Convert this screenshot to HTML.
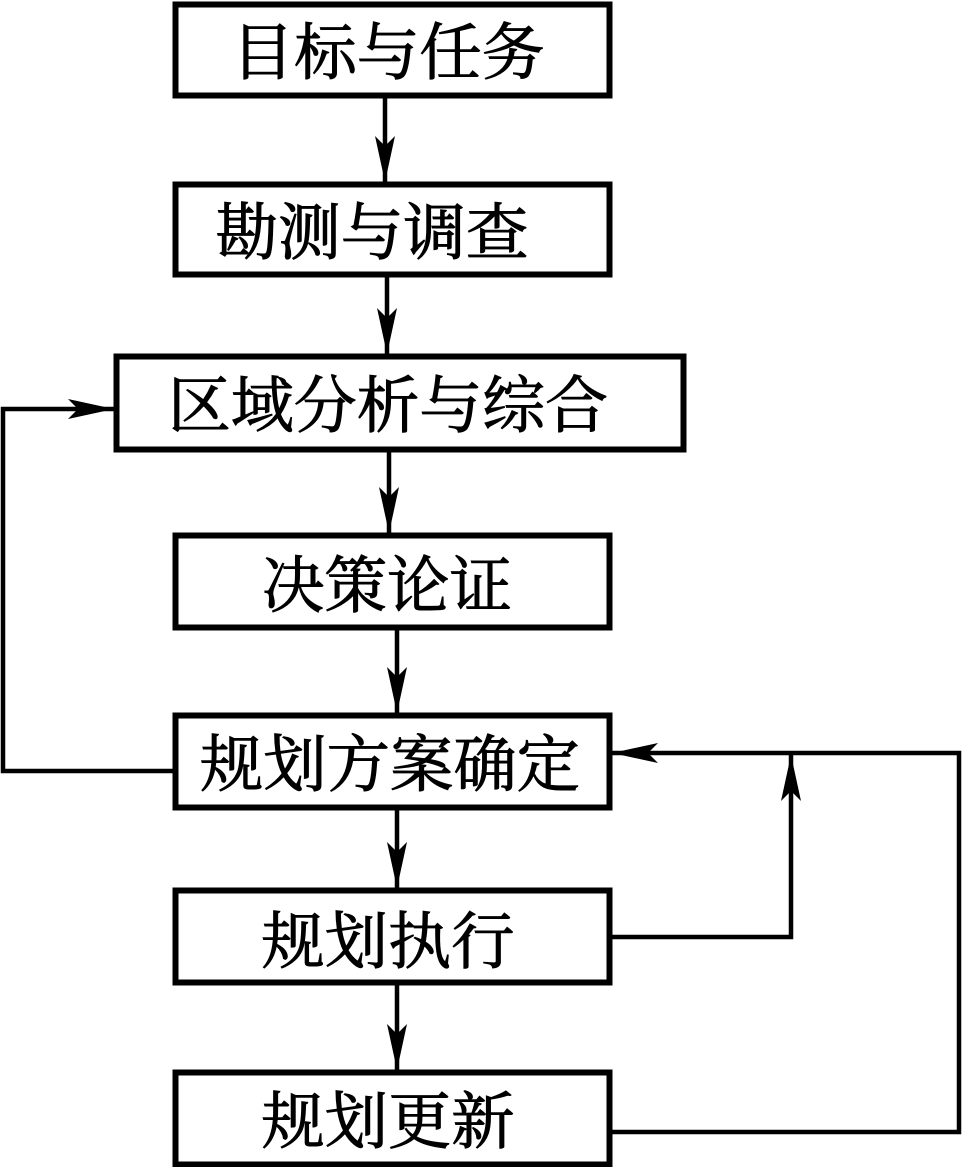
<!DOCTYPE html>
<html><head><meta charset="utf-8"><style>
html,body{margin:0;padding:0;background:#fff;}
svg{display:block;}
text{font-family:"Liberation Serif","Noto Serif CJK SC",serif;font-size:62px;fill:#000;stroke:#000;stroke-width:1;}
</style></head><body>
<svg width="963" height="1167" viewBox="0 0 963 1167" xmlns="http://www.w3.org/2000/svg">
<defs>
<marker id="a" viewBox="0 0 46 20" refX="46" refY="10" markerWidth="46" markerHeight="20" markerUnits="userSpaceOnUse" orient="auto">
<path d="M0,0 L46,10 L0,20 L10,10 Z" fill="#000"/>
</marker>
</defs>
<g fill="none" stroke="#000" stroke-width="6">
<rect x="175.5" y="4.5" width="434" height="91"/>
<rect x="175.5" y="184.5" width="434" height="90"/>
<rect x="116.5" y="356.5" width="567" height="93"/>
<rect x="175.5" y="535.5" width="434" height="92"/>
<rect x="175.5" y="715.5" width="434" height="92"/>
<rect x="175.5" y="890.5" width="434" height="92"/>
<rect x="175.5" y="1072.5" width="434" height="92"/>
</g>
<g fill="none" stroke="#000" stroke-width="4.5" marker-end="url(#a)">
<line x1="385" y1="98" x2="385" y2="182"/>
<line x1="387" y1="277" x2="387" y2="354"/>
<line x1="389" y1="452" x2="389" y2="533"/>
<line x1="397" y1="630" x2="397" y2="713"/>
<line x1="397" y1="810" x2="397" y2="888"/>
<line x1="397" y1="985" x2="397" y2="1070"/>
<polyline points="175,771 3,771 3,409 114,409"/>
<polyline points="612,937 791,937 791,755"/>
<polyline points="612,1132 959,1132 959,753 612,753"/>
</g>
<text x="388" y="74" text-anchor="middle" textLength="313" lengthAdjust="spacingAndGlyphs">目标与任务</text>
<text x="372" y="254" text-anchor="middle" textLength="313" lengthAdjust="spacingAndGlyphs">勘测与调查</text>
<text x="388" y="427" text-anchor="middle" textLength="440" lengthAdjust="spacingAndGlyphs">区域分析与综合</text>
<text x="387" y="607" text-anchor="middle" textLength="250" lengthAdjust="spacingAndGlyphs">决策论证</text>
<text x="390" y="786" text-anchor="middle" textLength="380" lengthAdjust="spacingAndGlyphs">规划方案确定</text>
<text x="388" y="963" text-anchor="middle" textLength="253" lengthAdjust="spacingAndGlyphs">规划执行</text>
<text x="388" y="1143" text-anchor="middle" textLength="253" lengthAdjust="spacingAndGlyphs">规划更新</text>
</svg>
</body></html>
